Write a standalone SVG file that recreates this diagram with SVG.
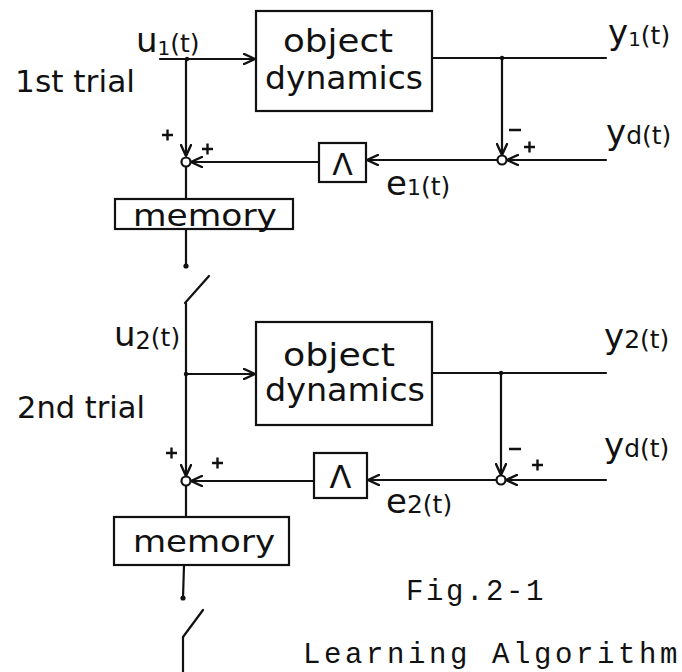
<svg xmlns="http://www.w3.org/2000/svg" width="682" height="672" viewBox="0 0 682 672">
<style>
.ln{stroke:#111;stroke-width:2.2;fill:none;stroke-linecap:round}
.bx{stroke:#111;stroke-width:2.2;fill:#fff}
.t{font-family:"DejaVu Sans","Liberation Sans",sans-serif;fill:#111}
.m{font-family:"Liberation Mono","DejaVu Sans Mono",monospace;fill:#111;font-size:29px}
.sg{stroke:#111;stroke-width:2.4;fill:none}
</style>
<defs>
<marker id="ar" viewBox="0 0 12 12" refX="12" refY="6" markerWidth="12" markerHeight="12" markerUnits="userSpaceOnUse" orient="auto">
<path d="M0,0.5 L12,6 L0,11.5" fill="none" stroke="#111" stroke-width="2.4"/>
</marker>
</defs>
<rect width="682" height="672" fill="#fff"/>

<g id="connectors">
<line class="ln" x1="160" y1="59" x2="255" y2="59" marker-end="url(#ar)"/>
<line class="ln" x1="186" y1="59" x2="186" y2="156" marker-end="url(#ar)"/>
<line class="ln" x1="432" y1="58" x2="606" y2="58"/>
<line class="ln" x1="502" y1="58" x2="502" y2="155" marker-end="url(#ar)"/>
<line class="ln" x1="606" y1="160" x2="507" y2="160" marker-end="url(#ar)"/>
<line class="ln" x1="497" y1="160" x2="367" y2="160" marker-end="url(#ar)"/>
<line class="ln" x1="319" y1="162" x2="191" y2="162" marker-end="url(#ar)"/>
<line class="ln" x1="186" y1="167" x2="186" y2="199"/>
<line class="ln" x1="186" y1="229" x2="186" y2="266"/>
<circle cx="187" cy="59" r="2.2" fill="#111"/>
<circle cx="502" cy="58" r="2.2" fill="#111"/>
<circle cx="186" cy="266" r="2.6" fill="#111"/>
<line class="ln" x1="185" y1="303" x2="209" y2="276"/>
<line class="ln" x1="186" y1="303" x2="186" y2="476" marker-end="url(#ar)"/>
<line class="ln" x1="186" y1="374" x2="255" y2="374" marker-end="url(#ar)"/>
<line class="ln" x1="432" y1="373" x2="606" y2="373"/>
<line class="ln" x1="501" y1="373" x2="501" y2="475" marker-end="url(#ar)"/>
<line class="ln" x1="606" y1="480" x2="506" y2="480" marker-end="url(#ar)"/>
<line class="ln" x1="496" y1="480" x2="368" y2="480" marker-end="url(#ar)"/>
<line class="ln" x1="314" y1="481" x2="191" y2="481" marker-end="url(#ar)"/>
<line class="ln" x1="186" y1="486" x2="186" y2="517"/>
<line class="ln" x1="184" y1="565" x2="183" y2="598"/>
<circle cx="186" cy="374" r="2.2" fill="#111"/>
<circle cx="501" cy="373" r="2.2" fill="#111"/>
<circle cx="183" cy="598" r="2.6" fill="#111"/>
<line class="ln" x1="183" y1="637" x2="203" y2="610"/>
<line class="ln" x1="183" y1="637" x2="183" y2="672"/>
</g>

<g id="sum1a"><circle cx="186" cy="162" r="4.5" fill="#fff" stroke="#111" stroke-width="2.2"/>
<path class="sg" d="M162,135 h11 M167.5,129.5 v11 M202,149 h11 M207.5,143.5 v11"/></g>
<g id="sum1b"><circle cx="502" cy="160" r="4.5" fill="#fff" stroke="#111" stroke-width="2.2"/>
<path class="sg" d="M509,130 h12 M524,147 h11 M529.5,141.5 v11"/></g>
<g id="sum2a"><circle cx="186" cy="481" r="4.5" fill="#fff" stroke="#111" stroke-width="2.2"/>
<path class="sg" d="M166,453 h11 M171.5,447.5 v11 M212,463 h11 M217.5,457.5 v11"/></g>
<g id="sum2b"><circle cx="501" cy="480" r="4.5" fill="#fff" stroke="#111" stroke-width="2.2"/>
<path class="sg" d="M509,449 h12 M532,465 h11 M537.5,459.5 v11"/></g>

<g id="obj1"><rect class="bx" x="256" y="11" width="176" height="100"/>
<text class="t" x="283" y="52" font-size="32" textLength="110" lengthAdjust="spacingAndGlyphs">object</text>
<text class="t" x="265" y="89" font-size="32" textLength="158" lengthAdjust="spacingAndGlyphs">dynamics</text></g>
<g id="lam1"><rect class="bx" x="319" y="143" width="47" height="39"/>
<text class="t" x="342.5" y="175" font-size="30" text-anchor="middle">Λ</text></g>
<g id="mem1"><rect class="bx" x="115" y="199" width="178" height="30"/>
<text class="t" x="133" y="226" font-size="31" textLength="144" lengthAdjust="spacingAndGlyphs">memory</text></g>

<g id="obj2"><rect class="bx" x="256" y="322" width="176" height="103"/>
<text class="t" x="283" y="366" font-size="32" textLength="112" lengthAdjust="spacingAndGlyphs">object</text>
<text class="t" x="265" y="401" font-size="32" textLength="160" lengthAdjust="spacingAndGlyphs">dynamics</text></g>
<g id="lam2"><rect class="bx" x="314" y="453" width="53" height="45"/>
<text class="t" x="340.5" y="488" font-size="32" text-anchor="middle">Λ</text></g>
<g id="mem2"><rect class="bx" x="114" y="517" width="175" height="48"/>
<text class="t" x="133" y="552" font-size="31" textLength="142" lengthAdjust="spacingAndGlyphs">memory</text></g>

<g id="labels">
<text class="t" x="136" y="52" font-size="34"><tspan>u</tspan><tspan font-size="20" dy="3">1</tspan><tspan font-size="25" dy="-3">(t)</tspan></text>
<text class="t" x="15" y="92" font-size="31" textLength="120" lengthAdjust="spacingAndGlyphs">1st trial</text>
<text class="t" x="608" y="44" font-size="34"><tspan>y</tspan><tspan font-size="20" dy="2">1</tspan><tspan font-size="25" dy="-2">(t)</tspan></text>
<text class="t" x="606" y="144" font-size="34"><tspan>y</tspan><tspan font-size="25">d(t)</tspan></text>
<text class="t" x="386" y="195" font-size="34"><tspan>e</tspan><tspan font-size="22">1</tspan><tspan font-size="25">(t)</tspan></text>
<text class="t" x="114" y="346" font-size="34"><tspan>u</tspan><tspan font-size="24" dy="3">2</tspan><tspan font-size="25" dy="-3">(t)</tspan></text>
<text class="t" x="17" y="418" font-size="31" textLength="128" lengthAdjust="spacingAndGlyphs">2nd trial</text>
<text class="t" x="604" y="348" font-size="34"><tspan>y</tspan><tspan font-size="25">2(t)</tspan></text>
<text class="t" x="604" y="457" font-size="34"><tspan>y</tspan><tspan font-size="25">d(t)</tspan></text>
<text class="t" x="386" y="513" font-size="34"><tspan>e</tspan><tspan font-size="25">2(t)</tspan></text>
<text class="m" x="406" y="600" letter-spacing="2.6">Fig.2-1</text>
<text class="m" x="303" y="663" font-size="28" letter-spacing="3.6">Learning Algorithm</text>
</g>
</svg>
